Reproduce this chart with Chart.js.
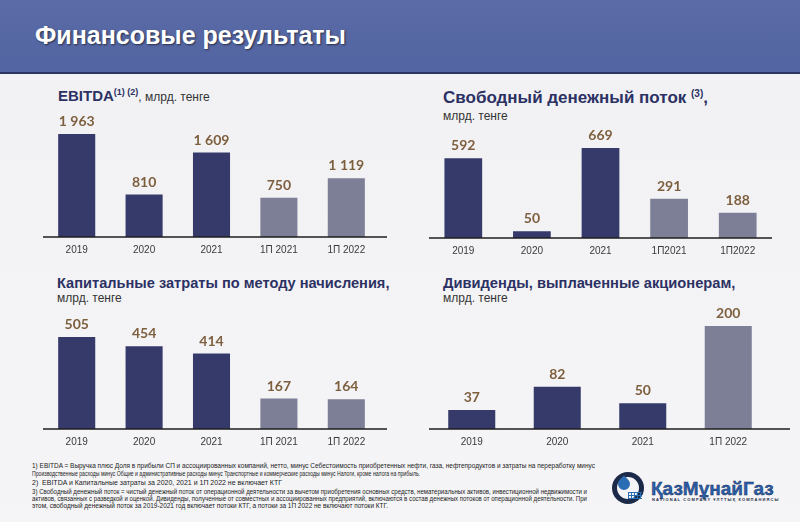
<!DOCTYPE html>
<html><head><meta charset="utf-8">
<script src="https://cdn.jsdelivr.net/npm/chart.js@4.4.1/dist/chart.umd.min.js"></script>
<style>
html,body{margin:0;padding:0;}
body{width:800px;height:522px;position:relative;overflow:hidden;background:linear-gradient(180deg,#f1f1f4 0%,#f5f5f7 100%);font-family:"Liberation Sans",Arial,sans-serif;}
#hdr{position:absolute;left:0;top:0;width:800px;height:72px;background:linear-gradient(180deg,#5a6ba7 0%,#5264a1 100%);border-bottom:2px solid #2b355f;}
#hdr span{position:absolute;left:35px;top:23px;line-height:25px;color:#fff;font-weight:bold;font-size:25px;text-shadow:1px 1px 2px rgba(0,0,0,.55);white-space:nowrap;}
.t{position:absolute;color:#2c3163;font-weight:bold;white-space:nowrap;}
.t .sp{position:relative;top:-6px;font-size:9px;}
.s{position:absolute;color:#333;font-size:12px;line-height:12px;white-space:nowrap;}
canvas{position:absolute;}
.fn{position:absolute;left:32px;font-size:6.3px;line-height:7px;color:#222;white-space:nowrap;transform-origin:0 0;}
#ring{position:absolute;left:612px;top:472px;width:22px;height:22px;border:5px solid #1c2a4a;border-radius:50%;}
#drop{position:absolute;left:618px;top:478px;width:12px;height:12px;background:#2a6db5;border-radius:0 50% 50% 50%;transform:rotate(45deg);}
#grid{position:absolute;left:628px;top:492px;width:14px;height:7px;background:repeating-linear-gradient(90deg,#2a6db5 0 1px,transparent 1px 3px),repeating-linear-gradient(0deg,#2a6db5 0 1px,transparent 1px 3px);}
#kmg{position:absolute;left:651px;top:479px;font-size:19px;line-height:19px;font-weight:bold;color:#2a5fac;white-space:nowrap;-webkit-text-stroke:0.4px #1c2a4a;}
#kmg2{position:absolute;left:652px;top:498px;font-size:4px;line-height:4px;font-weight:bold;color:#1c2a4a;letter-spacing:1.1px;white-space:nowrap;}
</style></head>
<body>
<div id="hdr"><span>Финансовые результаты</span></div>

<div class="t" style="left:58px;top:88px;font-size:15px;line-height:15px">EBITDA<span class="sp">(1) (2)</span><span style="font-weight:normal;font-size:12px;color:#333">, млрд. тенге</span></div>

<div class="t" style="left:443px;top:89px;font-size:17px;line-height:17px">Свободный денежный поток <span class="sp" style="font-size:10px">(3)</span>,</div>
<div class="s" style="left:443px;top:110px">млрд. тенге</div>

<div class="t" style="left:57px;top:276px;font-size:14.6px;line-height:15px">Капитальные затраты по методу начисления,</div>
<div class="s" style="left:57px;top:292px">млрд. тенге</div>

<div class="t" style="left:443px;top:276px;font-size:14.7px;line-height:15px">Дивиденды, выплаченные акционерам,</div>
<div class="s" style="left:443px;top:292px">млрд. тенге</div>

<canvas id="c1" width="344" height="157" style="left:43px;top:100px"></canvas>
<canvas id="c2" width="343" height="138" style="left:429px;top:120px"></canvas>
<canvas id="c3" width="344" height="144" style="left:43px;top:305px"></canvas>
<canvas id="c4" width="361" height="144" style="left:429px;top:305px"></canvas>

<div class="fn" data-w="563" style="top:462px">1) EBITDA = Выручка плюс Доля в прибыли СП и ассоциированных компаний, нетто, минус Себестоимость приобретенных нефти, газа, нефтепродуктов и затраты на переработку минус</div>
<div class="fn" data-w="388" style="top:470px">Производственные расходы минус Общие и административные расходы минус Транспортные и коммерческие расходы минус Налоги, кроме налога на прибыль.</div>
<div class="fn" data-w="250" style="top:479px">2)&nbsp; EBITDA и Капитальные затраты за 2020, 2021 и 1П 2022 не включает КТГ</div>
<div class="fn" data-w="555" style="top:488px">3) Свободный денежный поток = чистый денежный поток от операционной деятельности за вычетом приобретения основных средств, нематериальных активов, инвестиционной недвижимости и</div>
<div class="fn" data-w="555" style="top:495px">активов, связанных с разведкой и оценкой. Дивиденды, полученные от совместных и ассоциированных предприятий, включаются в состав денежных потоков от операционной деятельности. При</div>
<div class="fn" data-w="356" style="top:502px">этом, свободный денежный поток за 2019-2021 год включает потоки КТГ, а потоки за 1П 2022 не включают потоки КТГ.</div>

<div id="ring"></div><div id="drop"></div><div id="grid"></div>
<div id="kmg">ҚазМұнайГаз</div>
<div id="kmg2">NATIONAL COMPANY ҰЛТТЫҚ КОМПАНИЯСЫ</div>

<script>
// ---- data ----
const ebitdaLabels = ['2019','2020','2021','1П 2021','1П 2022'];
const ebitdaValues = [1963, 810, 1609, 750, 1119];

const fcfLabels = ['2019','2020','2021','1П2021','1П2022'];
const fcfValues = [592, 50, 669, 291, 188];

const capexLabels = ['2019','2020','2021','1П 2021','1П 2022'];
const capexValues = [505, 454, 414, 167, 164];

const divLabels = ['2019','2020','2021','1П 2022'];
const divValues = [37, 82, 50, 200];

// footnote lines fitted to their widths
document.querySelectorAll('.fn').forEach(el=>{
  const w = el.getBoundingClientRect().width, t = +el.dataset.w;
  if (w > 0 && t) el.style.transform = 'scaleX(' + (t / w) + ')';
});

// ---- styling ----
const DARK = '#363a6b';
const GRAY = '#7c7f96';
const LABEL = '#7d5f3e';

function fmt(v){ return String(v).replace(/\B(?=(\d{3})+(?!\d))/g,' '); }

const valueLabels = {
  id:'valueLabels',
  afterDatasetsDraw(chart){
    const ctx = chart.ctx, meta = chart.getDatasetMeta(0), data = chart.data.datasets[0].data;
    ctx.save();
    ctx.font = 'bold 14px Lato';
    ctx.fillStyle = LABEL;
    ctx.textAlign = 'center';
    ctx.textBaseline = 'middle';
    meta.data.forEach((bar,i)=>{ ctx.fillText(fmt(data[i]), bar.x, bar.y - 12.5); });
    ctx.restore();
  }
};
const baseline = {
  id:'baseline',
  afterDraw(chart){
    const ctx = chart.ctx, y = Math.round(chart.chartArea.bottom);
    ctx.save();
    ctx.strokeStyle = '#1e1e1e';
    ctx.lineWidth = 1.5;
    ctx.beginPath(); ctx.moveTo(0, y); ctx.lineTo(chart.width, y); ctx.stroke();
    ctx.restore();
  }
};

function make(id, labels, values, ymax, padR){
  new Chart(document.getElementById(id), {
    type:'bar',
    data:{ labels, datasets:[{
      data: values,
      backgroundColor: labels.map(l => l.startsWith('1П') ? GRAY : DARK),
      borderWidth: 0,
      categoryPercentage: 1,
      barPercentage: 0.55
    }]},
    options:{
      responsive:false, animation:false,
      layout:{ padding:{ left:0, right:padR, top:0, bottom:0 } },
      plugins:{ legend:{display:false}, tooltip:{enabled:false} },
      scales:{
        x:{
          grid:{display:false, drawTicks:false},
          border:{display:false},
          ticks:{ color:'#3a3a3a', font:{family:'Liberation Sans', size:10}, padding:7, maxRotation:0, autoSkip:false },
          afterFit(s){ s.height = 20; }
        },
        y:{ display:false, min:0, max:ymax }
      }
    },
    plugins:[valueLabels, baseline]
  });
}

make('c1', ebitdaLabels, ebitdaValues, 2611, 7);
make('c2', fcfLabels, fcfValues, 877, 0);
make('c3', capexLabels, capexValues, 681, 7);
make('c4', divLabels, divValues, 241, 19);
</script>
</body></html>
